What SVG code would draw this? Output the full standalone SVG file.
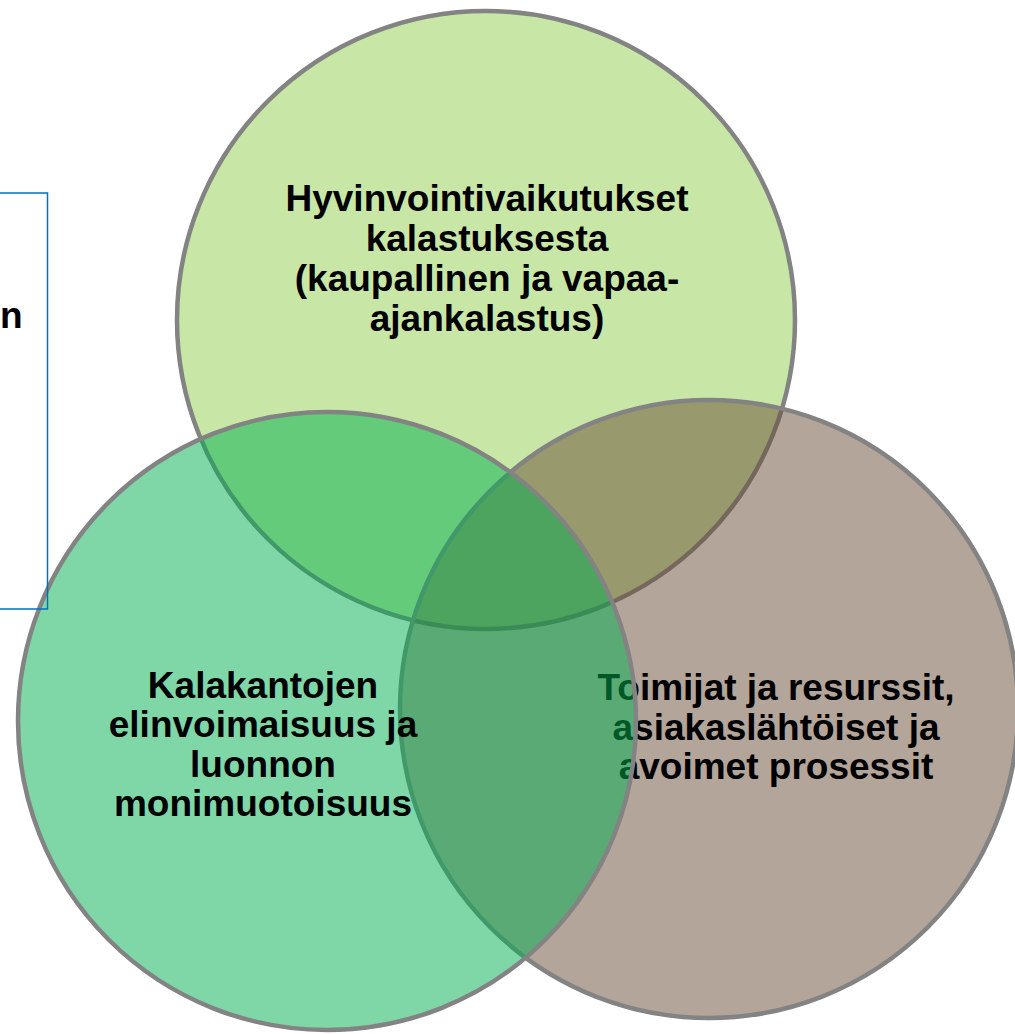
<svg xmlns="http://www.w3.org/2000/svg" width="1015" height="1034" viewBox="0 0 1015 1034">
<style>
.c{stroke:#838383;stroke-width:4.5;fill-opacity:0.5}
.t{font-family:"Liberation Sans",Arial,sans-serif;font-weight:bold;font-size:37px;fill:#000;text-anchor:middle}
</style>
<rect x="0" y="0" width="1015" height="1034" fill="#fff"/>
<g id="node-top">
<circle class="c" cx="486" cy="320" r="309" fill="#92D050"/>
<text class="t"><tspan x="487" y="211">Hyvinvointivaikutukset</tspan><tspan x="487" y="251">kalastuksesta</tspan><tspan x="487" y="291">(kaupallinen ja vapaa-</tspan><tspan x="487" y="331">ajankalastus)</tspan></text>
</g>
<g id="node-right">
<circle class="c" cx="709" cy="709" r="309" fill="#674B34"/>
<text class="t"><tspan x="776" y="700">Toimijat ja resurssit,</tspan><tspan x="776" y="740">asiakaslähtöiset ja</tspan><tspan x="776" y="779">avoimet prosessit</tspan></text>
</g>
<g id="node-left">
<circle class="c" cx="327" cy="721" r="309" fill="#00B050"/>
<text class="t"><tspan x="263" y="698">Kalakantojen</tspan><tspan x="263" y="737">elinvoimaisuus ja</tspan><tspan x="263" y="777">luonnon</tspan><tspan x="263" y="816">monimuotoisuus</tspan></text>
</g>
<g id="node-box">
<rect x="-10" y="193" width="57.5" height="416" fill="none" stroke="#0070C0" stroke-width="1.5"/>
<text class="t" style="text-anchor:end" x="22.5" y="328">n</text>
</g>
<g id="connectors"/>
</svg>
